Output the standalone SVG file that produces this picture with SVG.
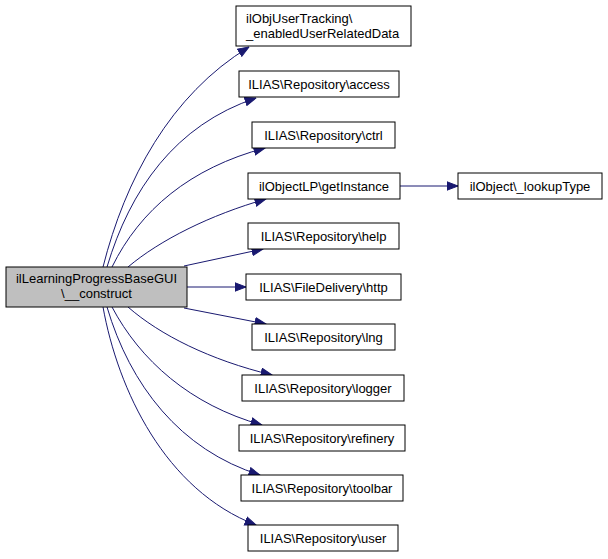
<svg xmlns="http://www.w3.org/2000/svg" width="608" height="559" viewBox="0 0 608 559">
<style>
.n rect{fill:#fff;stroke:#000;stroke-width:1}
.n text{font-family:"Liberation Sans",Arial,sans-serif;font-size:13px;fill:#000;text-anchor:middle}
#main rect{fill:#bfbfbf}
#edges path{fill:none;stroke:#191970;stroke-width:1}
</style>
<defs>
<marker id="ah" viewBox="0 0 12 10" refX="11.5" refY="5" markerWidth="12" markerHeight="10" markerUnits="userSpaceOnUse" orient="auto">
<path d="M0.5,0.8 L11.5,5 L0.5,9.2 Z" fill="#191970" stroke="#191970"/>
</marker>
</defs>
<rect width="608" height="559" fill="#fff"/>
<g id="edges">
<path marker-end="url(#ah)" d="M103,267 C125,180 170,95 249,47"/>
<path marker-end="url(#ah)" d="M107,267 C130,190 175,125 256,98"/>
<path marker-end="url(#ah)" d="M112,267 C140,210 190,168 265,148"/>
<path marker-end="url(#ah)" d="M128,267 C160,240 210,215 266,199"/>
<path marker-end="url(#ah)" d="M184,266 L263,249"/>
<path marker-end="url(#ah)" d="M187,287 L246,287"/>
<path marker-end="url(#ah)" d="M184,308 L266,324"/>
<path marker-end="url(#ah)" d="M128,307 C160,335 210,360 272,375"/>
<path marker-end="url(#ah)" d="M112,307 C140,360 190,405 262,425"/>
<path marker-end="url(#ah)" d="M107,307 C130,385 180,450 260,475"/>
<path marker-end="url(#ah)" d="M103,307 C118,390 165,490 256,525"/>
<path marker-end="url(#ah)" d="M400,186 L458,186"/>
</g>
<g id="main" class="n"><rect x="6" y="267" width="181" height="40"/><text x="96.5" y="283">ilLearningProgressBaseGUI</text><text x="96.5" y="298">\__construct</text></g>
<g id="n1" class="n"><rect x="236" y="6" width="175" height="40"/><text x="246" y="23" style="text-anchor:start">ilObjUserTracking\</text><text x="246" y="38" style="text-anchor:start">_enabledUserRelatedData</text></g>
<g id="n2" class="n"><rect x="239" y="71" width="160" height="26"/><text x="319" y="88.5">ILIAS\Repository\access</text></g>
<g id="n3" class="n"><rect x="252" y="122" width="143" height="26"/><text x="323.5" y="139.5">ILIAS\Repository\ctrl</text></g>
<g id="n4" class="n"><rect x="248" y="173" width="152" height="26"/><text x="324" y="190.5">ilObjectLP\getInstance</text></g>
<g id="n5" class="n"><rect x="248" y="223" width="151" height="26"/><text x="323.5" y="240.5">ILIAS\Repository\help</text></g>
<g id="n6" class="n"><rect x="246" y="274" width="155" height="26"/><text x="323.5" y="291.5">ILIAS\FileDelivery\http</text></g>
<g id="n7" class="n"><rect x="252" y="324" width="143" height="26"/><text x="323.5" y="341.5">ILIAS\Repository\lng</text></g>
<g id="n8" class="n"><rect x="242" y="375" width="162" height="26"/><text x="323" y="392.5">ILIAS\Repository\logger</text></g>
<g id="n9" class="n"><rect x="239" y="425" width="166" height="26"/><text x="322" y="442.5">ILIAS\Repository\refinery</text></g>
<g id="n10" class="n"><rect x="241" y="475" width="162" height="26"/><text x="322" y="492.5">ILIAS\Repository\toolbar</text></g>
<g id="n11" class="n"><rect x="248" y="525" width="150" height="26"/><text x="323" y="542.5">ILIAS\Repository\user</text></g>
<g id="n12" class="n"><rect x="458" y="173" width="144" height="26"/><text x="530" y="190.5">ilObject\_lookupType</text></g>
</svg>
